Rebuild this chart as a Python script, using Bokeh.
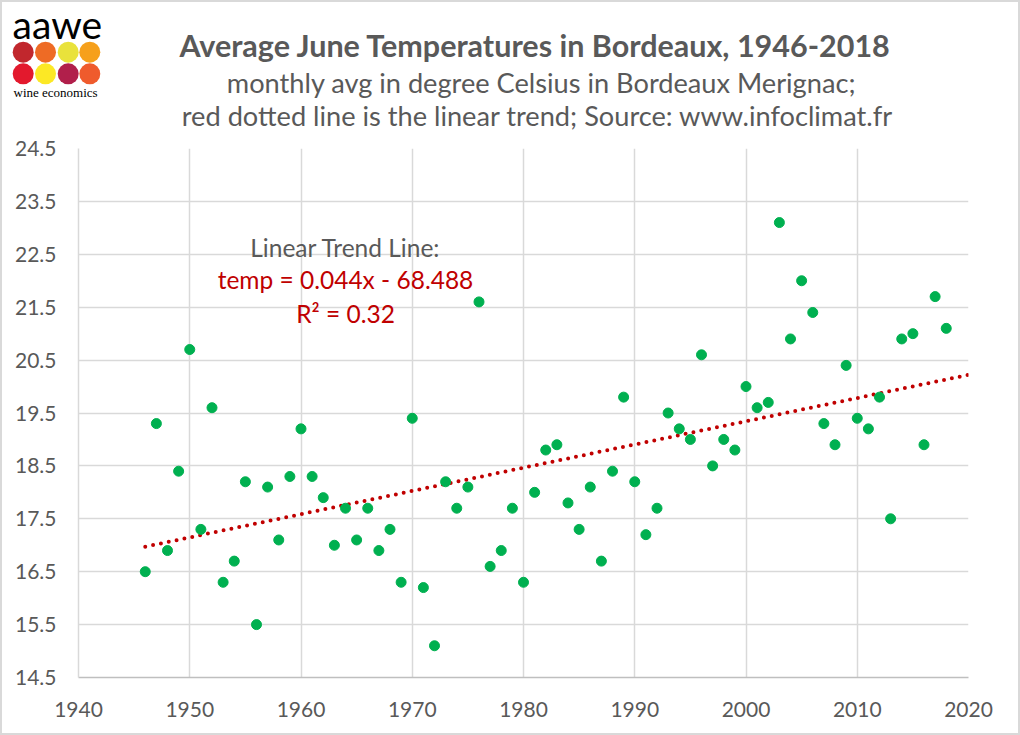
import numpy as np
from bokeh.plotting import figure
from bokeh.layouts import column
from bokeh.models import Label, Range1d, FixedTicker, PrintfTickFormatter
from bokeh.core.properties import value
from bokeh.embed import file_html
from bokeh.resources import INLINE

# ---- data ----
years = list(range(1946, 2019))
temps = [16.5, 19.3, 16.9, 18.4, 20.7, 17.3, 19.6, 16.3, 16.7, 18.2,
         15.5, 18.1, 17.1, 18.3, 19.2, 18.3, 17.9, 17.0, 17.7, 17.1,
         17.7, 16.9, 17.3, 16.3, 19.4, 16.2, 15.1, 18.2, 17.7, 18.1,
         21.6, 16.6, 16.9, 17.7, 16.3, 18.0, 18.8, 18.9, 17.8, 17.3,
         18.1, 16.7, 18.4, 19.8, 18.2, 17.2, 17.7, 19.5, 19.2, 19.0,
         20.6, 18.5, 19.0, 18.8, 20.0, 19.6, 19.7, 23.1, 20.9, 22.0,
         21.4, 19.3, 18.9, 20.4, 19.4, 19.2, 19.8, 17.5, 20.9, 21.0,
         18.9, 21.7, 21.1]
x_ticks = [1940, 1950, 1960, 1970, 1980, 1990, 2000, 2010, 2020]
y_ticks = [14.5, 15.5, 16.5, 17.5, 18.5, 19.5, 20.5, 21.5, 22.5, 23.5, 24.5]
trend_years = [1946, 2020]

title_text = "Average June Temperatures in Bordeaux, 1946-2018"
sub1_text = "monthly avg in degree Celsius in Bordeaux Merignac;"
sub2_text = "red dotted line is the linear trend; Source: www.infoclimat.fr"
ann_lines = ["Linear Trend Line:", "temp = 0.044x - 68.488", "R\u00b2 = 0.32"]
logo_word = "aawe"
logo_sub = "wine economics"
logo_colors = ["#c1272d", "#ee6b25", "#e9e23b", "#f6a01b",
               "#e3192d", "#fce825", "#b11f4b", "#ef5b2d"]

FONT = "Lato"
GRAY = "#595959"
RED = "#c00000"
PAD = 2
W, H = 1020, 735
HEAD_H = 136

# ---------- header (title + logo) ----------
head = figure(width=W - 2 * PAD, height=HEAD_H - PAD, output_backend="svg", toolbar_location=None,
              x_range=Range1d(PAD, W - PAD), y_range=Range1d(HEAD_H, PAD),
              x_axis_type=None, y_axis_type=None, min_border=0)
head.frame_align = False
head.outline_line_color = None
head.xgrid.visible = False
head.ygrid.visible = False
head.border_fill_color = "white"

head.text(x=[535], y=[44.3], text=[title_text], text_font=value(FONT), text_font_size=value("30.5px"),
          text_font_style="bold", text_color=GRAY, text_align="center", text_baseline="alphabetic")
head.text(x=[541, 537], y=[82, 114.5], text=[sub1_text, sub2_text], text_font=value(FONT),
          text_font_size=value("27.2px"), text_color=GRAY, text_align="center", text_baseline="alphabetic")

head.text(x=[12], y=[23], text=[logo_word], text_font=value("Lato"), text_font_size=value("39px"),
          text_color="black", text_align="left", text_baseline="alphabetic")
cx = [22.7, 45.0, 67.7, 89.3] * 2
cy = [51.7] * 4 + [73.3] * 4
head.scatter(x=cx, y=cy, size=21, fill_color=logo_colors, line_color=None)
head.text(x=[13], y=[92], text=[logo_sub], text_font=value("Liberation Serif"), text_font_size=value("13px"),
          text_color="black", text_align="left", text_baseline="alphabetic")

# ---------- main chart ----------
p = figure(width=W - 2 * PAD, height=H - HEAD_H - PAD, output_backend="svg", toolbar_location=None,
           x_range=Range1d(x_ticks[0], x_ticks[-1]), y_range=Range1d(y_ticks[0], y_ticks[-1]),
           min_border_left=78 - PAD, min_border_right=W - PAD - 968, min_border_top=148 - HEAD_H,
           min_border_bottom=H - PAD - 677)
p.frame_align = False
p.outline_line_color = None
p.background_fill_color = "white"
p.border_fill_color = "white"

p.xaxis.ticker = FixedTicker(ticks=x_ticks)
p.yaxis.ticker = FixedTicker(ticks=y_ticks)
p.yaxis.formatter = PrintfTickFormatter(format="%.1f")
p.xaxis.formatter = PrintfTickFormatter(format="%d")
for ax in (p.xaxis, p.yaxis):
    ax.major_tick_line_color = None
    ax.minor_tick_line_color = None
    ax.major_label_text_font = FONT
    ax.major_label_text_font_size = "21px"
    ax.major_label_text_color = GRAY
p.xaxis.axis_line_color = "#bfbfbf"
p.xaxis.axis_line_width = 1.5
p.xaxis.major_label_standoff = 18
p.yaxis.axis_line_color = "#d9d9d9"
p.yaxis.axis_line_width = 1.5
p.yaxis.major_label_standoff = 16

p.xgrid.grid_line_color = "#d9d9d9"
p.ygrid.grid_line_color = "#d9d9d9"
p.xgrid.grid_line_width = 1.5
p.ygrid.grid_line_width = 1.5

# trend line from least squares fit
slope, intercept = np.polyfit(years, temps, 1)
trend_vals = [slope * y + intercept for y in trend_years]
p.line(trend_years, trend_vals, line_color=RED, line_width=4, line_dash="0 8", line_cap="round")

p.scatter(years, temps, size=10, fill_color="#00b050", line_color="#00b050")

def lab(text, X, Y, size, color=GRAY):
    p.add_layout(Label(x=X - 78, y=677 - Y, x_units="screen", y_units="screen", text=text,
                       text_font=FONT, text_font_size=size, text_color=color,
                       text_align="center", text_baseline="alphabetic"))

lab(ann_lines[0], 345, 247, "24.5px")
lab(ann_lines[1], 345, 279, "24.5px", color=RED)
lab(ann_lines[2], 345, 312.5, "24.5px", color=RED)

layout = column(head, p, spacing=0,
                styles={"background-color": "white", "padding": "%dpx" % PAD,
                        "box-shadow": "inset 0 0 0 %dpx #d9d9d9" % PAD})
open("out.html", "w").write(file_html(layout, INLINE))
